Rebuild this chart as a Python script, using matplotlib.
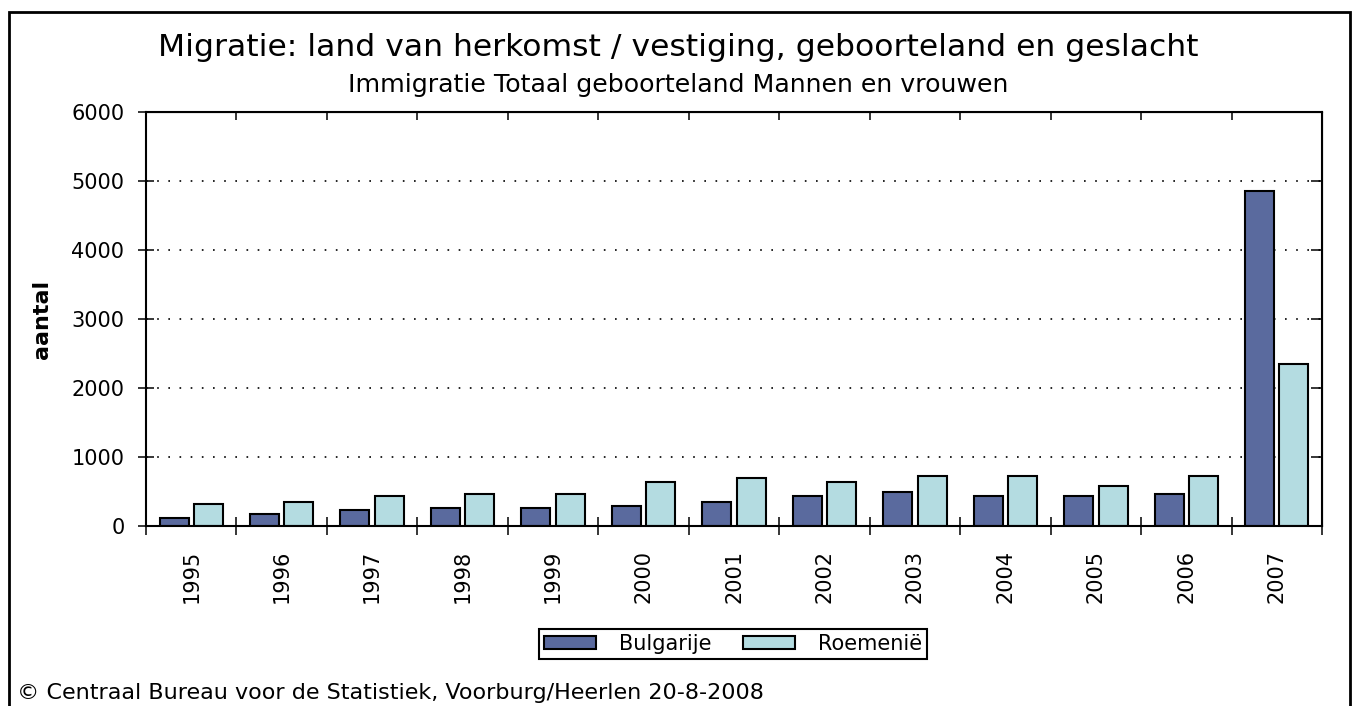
import matplotlib
matplotlib.use("Agg")
import matplotlib.pyplot as plt
from matplotlib.patches import Rectangle
import numpy as np

years = ["1995", "1996", "1997", "1998", "1999", "2000", "2001",
         "2002", "2003", "2004", "2005", "2006", "2007"]
bulgarije = [116, 175, 233, 262, 262, 290, 349, 436, 494, 436, 436, 465, 4855]
roemenie = [320, 350, 436, 465, 465, 640, 698, 640, 727, 727, 581, 727, 2355]
yticks = [0, 1000, 2000, 3000, 4000, 5000, 6000]

c_bul = "#5a6a9e"
c_roe = "#b4dce1"

plt.rcParams["font.family"] = ["DejaVu Sans"]

fig = plt.figure(figsize=(13.57, 7.06), dpi=100)
ax = fig.add_axes([146 / 1357, 1 - 526 / 706, (1322 - 146) / 1357, (526 - 112) / 706])

x = np.arange(len(years))
w = 0.32
b1 = ax.bar(x - 0.19, bulgarije, w, color=c_bul, edgecolor="black", linewidth=1.5, label="Bulgarije")
b2 = ax.bar(x + 0.19, roemenie, w, color=c_roe, edgecolor="black", linewidth=1.5, label="Roemenië")

ax.set_xlim(-0.5, len(years) - 0.5)
ax.set_ylim(0, 6000)
ax.set_yticks(yticks)
ax.set_yticklabels([str(v) for v in yticks], fontsize=15)
ax.set_xticks(x)
ax.set_xticklabels(years, rotation=90, fontsize=15)
ax.set_xticks(np.arange(-0.5, len(years)), minor=True)

ax.tick_params(axis="x", which="major", length=0, pad=17)
ax.tick_params(axis="x", which="minor", direction="inout", length=13, width=1.1)
ax.tick_params(axis="y", which="major", direction="inout", length=11, width=1.1, pad=10)

for s in ax.spines.values():
    s.set_linewidth(1.5)
    s.set_color("black")

ax.set_axisbelow(True)
for v in yticks[1:-1]:
    ax.axhline(v, color="black", linewidth=1.2, linestyle=(0, (1, 5.7)), zorder=0.5)

# ticks at top and right pointing inward
top = ax.secondary_xaxis("top")
top.set_xticks(np.arange(-0.5, len(years)))
top.set_xticklabels([])
top.tick_params(direction="in", length=6, width=1.1)
right = ax.secondary_yaxis("right")
right.set_yticks(yticks)
right.set_yticklabels([])
right.tick_params(direction="in", length=8, width=1.1)

ax.set_ylabel("aantal", fontsize=16, fontweight="bold", labelpad=14)

fig.text(0.5, 1 - 48 / 706, "Migratie: land van herkomst / vestiging, geboorteland en geslacht",
         ha="center", va="center", fontsize=22.6)
fig.text(0.5, 1 - 85 / 706, "Immigratie Totaal geboorteland Mannen en vrouwen",
         ha="center", va="center", fontsize=18.2)

leg = fig.legend(handles=[b1, b2], loc="center", bbox_to_anchor=(733 / 1357, 1 - 644 / 706),
                 ncol=2, fontsize=15, fancybox=False, edgecolor="black", framealpha=1,
                 handlelength=2.5, handleheight=0.6, borderpad=0.25, columnspacing=1.5,
                 handletextpad=1.1)
leg.get_frame().set_linewidth(1.5)

fig.text(17 / 1357, 1 - 693 / 706, "© Centraal Bureau voor de Statistiek, Voorburg/Heerlen 20-8-2008",
         ha="left", va="center", fontsize=16)

fig.patches.append(Rectangle((9 / 1357, -0.1), (1350 - 9) / 1357, 1.1 - 12 / 706,
                             transform=fig.transFigure, fill=False, edgecolor="black",
                             linewidth=2))

fig.savefig("out.png", dpi=100)
